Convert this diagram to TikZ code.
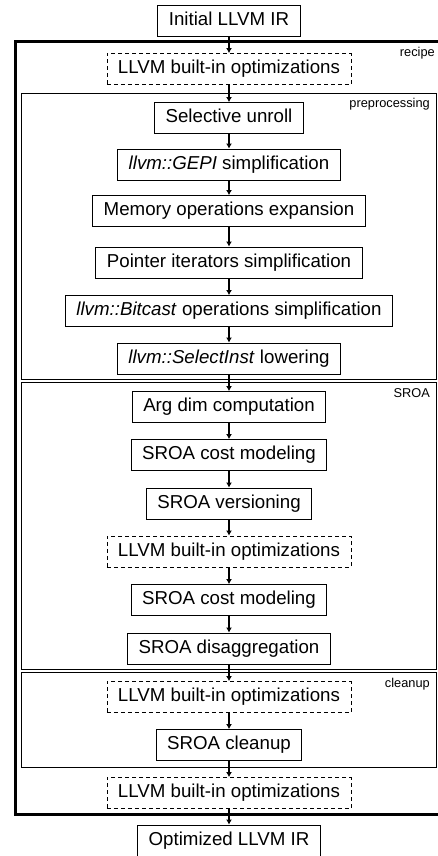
\documentclass[tikz,border=0pt]{standalone}
\usepackage{fontspec}
\setmainfont{Liberation Sans}
\usepackage{tikz}
\usetikzlibrary{arrows.meta}

\tikzset{
  pass/.style={draw, line width=0.9pt, inner xsep=11pt, inner ysep=0pt,
    minimum height=31pt, text height=13.6pt, text depth=3.9pt,
    font=\fontsize{18.7}{22}\selectfont},
  builtin/.style={pass, dash pattern=on 4pt off 3pt},
  flow/.style={line width=1.8pt, -{Latex[length=5pt,width=6pt]}},
  stage/.style={draw, line width=1pt},
  stagename/.style={anchor=base east, inner sep=0pt, font=\fontsize{12.8}{14}\selectfont}
}

\begin{document}
\begin{tikzpicture}[x=1pt, y=-1pt]
  \useasboundingbox (0,0) rectangle (438,856);
  % recipe frame and its stages
  \draw[black, line width=3pt] (15,42) rectangle (441,814);
  \draw[stage] (21,94) rectangle (436,379);
  \draw[stage] (21,382) rectangle (436,669);
  \draw[stage] (21,672) rectangle (436,767);
  \node[stagename] (lrecipe) at (435,57) {recipe};
  \node[stagename] (lpre) at (430,107) {preprocessing};
  \node[stagename] (lsroa) at (430,397) {SROA};
  \node[stagename] (lclean) at (430,687) {cleanup};

  % passes
  \node[pass] (init) at (229,20.5) {Initial LLVM IR};
  \node[builtin] (opt1) at (229,69) {LLVM built-in optimizations};
  \node[pass] (unroll) at (229,118) {Selective unroll};
  \node[pass] (gepi) at (229,164.5) {\textit{llvm::GEPI} simplification};
  \node[pass] (memexp) at (229,211) {Memory operations expansion};
  \node[pass] (ptrit) at (229,262.5) {Pointer iterators simplification};
  \node[pass] (bitcast) at (229,311) {\textit{llvm::Bitcast} operations simplification};
  \node[pass] (select) at (229,358.5) {\textit{llvm::SelectInst} lowering};
  \node[pass] (argdim) at (229,407) {Arg dim computation};
  \node[pass] (cost1) at (229,455) {SROA cost modeling};
  \node[pass] (version) at (229,503.5) {SROA versioning};
  \node[builtin] (opt2) at (229,551.5) {LLVM built-in optimizations};
  \node[pass] (cost2) at (229,600) {SROA cost modeling};
  \node[pass] (disagg) at (229,648.5) {SROA disaggregation};
  \node[builtin] (opt3) at (229,697) {LLVM built-in optimizations};
  \node[pass] (cleanup) at (229,745) {SROA cleanup};
  \node[builtin] (opt4) at (229,793) {LLVM built-in optimizations};
  \node[pass] (final) at (229,840.5) {Optimized LLVM IR};

  \foreach \a/\b in {init/opt1, opt1/unroll, unroll/gepi, gepi/memexp, memexp/ptrit,
      ptrit/bitcast, bitcast/select, select/argdim, argdim/cost1, cost1/version,
      version/opt2, opt2/cost2, cost2/disagg, disagg/opt3, opt3/cleanup,
      cleanup/opt4, opt4/final}
    \draw[flow] (\a) -- (\b);
\end{tikzpicture}
\end{document}
